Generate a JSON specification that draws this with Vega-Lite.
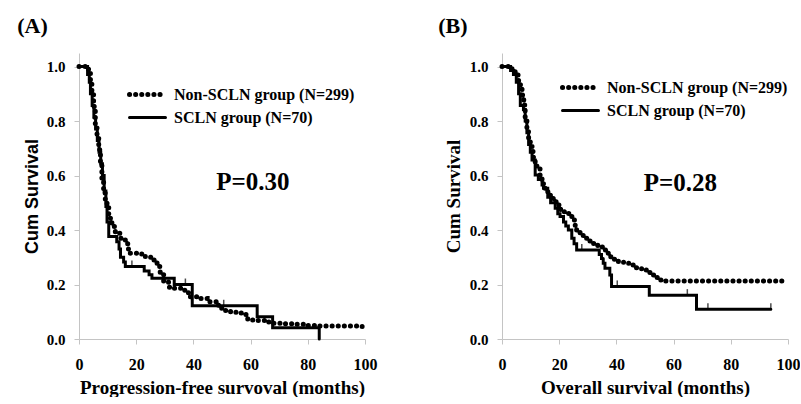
{
  "$schema": "https://vega.github.io/schema/vega-lite/v6.json",
  "background": "white",
  "padding": {"left": 17, "top": 15, "right": 0, "bottom": 0},
  "bounds": "flush",
  "spacing": 137,
  "config": {
    "view": {"stroke": null},
    "font": "Liberation Serif",
    "axis": {
      "grid": false,
      "domainColor": "#c4c4c4",
      "tickColor": "#c4c4c4",
      "tickSize": 5,
      "labelFont": "Liberation Serif",
      "labelFontWeight": "bold",
      "labelColor": "black",
      "labelFlush": false,
      "labelOverlap": false,
      "titleFont": "Liberation Serif",
      "titleFontWeight": "bold",
      "titleColor": "black"
    },
    "axisX": {"labelFontSize": 16, "labelPadding": 12, "titleFontSize": 19, "titlePadding": 6},
    "axisY": {"labelFontSize": 15, "labelPadding": 9, "titleFontSize": 19, "titlePadding": 6},
    "legend": {
      "orient": "none",
      "title": null,
      "symbolType": "M-2,0H2",
      "symbolSize": 324,
      "symbolStrokeColor": "black",
      "labelFont": "Liberation Serif",
      "labelFontWeight": "bold",
      "labelFontSize": 16,
      "labelColor": "black",
      "labelLimit": 400,
      "labelOffset": 15,
      "rowPadding": 2,
      "padding": 0
    }
  },
  "datasets": {
    "curves": [
      {"panel": "A", "group": "Non-SCLN group (N=299)", "t": 0, "s": 1},
      {"panel": "A", "group": "Non-SCLN group (N=299)", "t": 2.2, "s": 0.99},
      {"panel": "A", "group": "Non-SCLN group (N=299)", "t": 3.4, "s": 0.976},
      {"panel": "A", "group": "Non-SCLN group (N=299)", "t": 4, "s": 0.94},
      {"panel": "A", "group": "Non-SCLN group (N=299)", "t": 4.5, "s": 0.9},
      {"panel": "A", "group": "Non-SCLN group (N=299)", "t": 5.1, "s": 0.854},
      {"panel": "A", "group": "Non-SCLN group (N=299)", "t": 5.7, "s": 0.79},
      {"panel": "A", "group": "Non-SCLN group (N=299)", "t": 6.3, "s": 0.744},
      {"panel": "A", "group": "Non-SCLN group (N=299)", "t": 6.9, "s": 0.695},
      {"panel": "A", "group": "Non-SCLN group (N=299)", "t": 7.5, "s": 0.646},
      {"panel": "A", "group": "Non-SCLN group (N=299)", "t": 8, "s": 0.585},
      {"panel": "A", "group": "Non-SCLN group (N=299)", "t": 8.6, "s": 0.536},
      {"panel": "A", "group": "Non-SCLN group (N=299)", "t": 9.2, "s": 0.505},
      {"panel": "A", "group": "Non-SCLN group (N=299)", "t": 9.8, "s": 0.486},
      {"panel": "A", "group": "Non-SCLN group (N=299)", "t": 10.4, "s": 0.456},
      {"panel": "A", "group": "Non-SCLN group (N=299)", "t": 11, "s": 0.43},
      {"panel": "A", "group": "Non-SCLN group (N=299)", "t": 11.5, "s": 0.413},
      {"panel": "A", "group": "Non-SCLN group (N=299)", "t": 12.7, "s": 0.388},
      {"panel": "A", "group": "Non-SCLN group (N=299)", "t": 14.4, "s": 0.37},
      {"panel": "A", "group": "Non-SCLN group (N=299)", "t": 16.2, "s": 0.35},
      {"panel": "A", "group": "Non-SCLN group (N=299)", "t": 17.3, "s": 0.33},
      {"panel": "A", "group": "Non-SCLN group (N=299)", "t": 17.9, "s": 0.315},
      {"panel": "A", "group": "Non-SCLN group (N=299)", "t": 20.8, "s": 0.312},
      {"panel": "A", "group": "Non-SCLN group (N=299)", "t": 23.2, "s": 0.3},
      {"panel": "A", "group": "Non-SCLN group (N=299)", "t": 26, "s": 0.29},
      {"panel": "A", "group": "Non-SCLN group (N=299)", "t": 27.3, "s": 0.266},
      {"panel": "A", "group": "Non-SCLN group (N=299)", "t": 28.4, "s": 0.24},
      {"panel": "A", "group": "Non-SCLN group (N=299)", "t": 29.6, "s": 0.21},
      {"panel": "A", "group": "Non-SCLN group (N=299)", "t": 31.3, "s": 0.19},
      {"panel": "A", "group": "Non-SCLN group (N=299)", "t": 33.1, "s": 0.186},
      {"panel": "A", "group": "Non-SCLN group (N=299)", "t": 36, "s": 0.18},
      {"panel": "A", "group": "Non-SCLN group (N=299)", "t": 37, "s": 0.17},
      {"panel": "A", "group": "Non-SCLN group (N=299)", "t": 38.3, "s": 0.155},
      {"panel": "A", "group": "Non-SCLN group (N=299)", "t": 41.3, "s": 0.149},
      {"panel": "A", "group": "Non-SCLN group (N=299)", "t": 44.8, "s": 0.137},
      {"panel": "A", "group": "Non-SCLN group (N=299)", "t": 48.8, "s": 0.113},
      {"panel": "A", "group": "Non-SCLN group (N=299)", "t": 51, "s": 0.105},
      {"panel": "A", "group": "Non-SCLN group (N=299)", "t": 53, "s": 0.098},
      {"panel": "A", "group": "Non-SCLN group (N=299)", "t": 55, "s": 0.095},
      {"panel": "A", "group": "Non-SCLN group (N=299)", "t": 57, "s": 0.09},
      {"panel": "A", "group": "Non-SCLN group (N=299)", "t": 59, "s": 0.07},
      {"panel": "A", "group": "Non-SCLN group (N=299)", "t": 62, "s": 0.068},
      {"panel": "A", "group": "Non-SCLN group (N=299)", "t": 66, "s": 0.062},
      {"panel": "A", "group": "Non-SCLN group (N=299)", "t": 68, "s": 0.058},
      {"panel": "A", "group": "Non-SCLN group (N=299)", "t": 72, "s": 0.056},
      {"panel": "A", "group": "Non-SCLN group (N=299)", "t": 76, "s": 0.054},
      {"panel": "A", "group": "Non-SCLN group (N=299)", "t": 79, "s": 0.05},
      {"panel": "A", "group": "Non-SCLN group (N=299)", "t": 83, "s": 0.048},
      {"panel": "A", "group": "Non-SCLN group (N=299)", "t": 98.5, "s": 0.048},
      {"panel": "A", "group": "Non-SCLN group (N=299)", "t": 99, "s": 0.042},
      {"panel": "A", "group": "SCLN group (N=70)", "t": 0, "s": 1},
      {"panel": "A", "group": "SCLN group (N=70)", "t": 3, "s": 0.971},
      {"panel": "A", "group": "SCLN group (N=70)", "t": 3.6, "s": 0.943},
      {"panel": "A", "group": "SCLN group (N=70)", "t": 4, "s": 0.9},
      {"panel": "A", "group": "SCLN group (N=70)", "t": 4.6, "s": 0.857},
      {"panel": "A", "group": "SCLN group (N=70)", "t": 5.2, "s": 0.814},
      {"panel": "A", "group": "SCLN group (N=70)", "t": 5.8, "s": 0.771},
      {"panel": "A", "group": "SCLN group (N=70)", "t": 6.4, "s": 0.729},
      {"panel": "A", "group": "SCLN group (N=70)", "t": 7, "s": 0.686},
      {"panel": "A", "group": "SCLN group (N=70)", "t": 7.6, "s": 0.643},
      {"panel": "A", "group": "SCLN group (N=70)", "t": 8.2, "s": 0.6},
      {"panel": "A", "group": "SCLN group (N=70)", "t": 8.8, "s": 0.543},
      {"panel": "A", "group": "SCLN group (N=70)", "t": 9.4, "s": 0.486},
      {"panel": "A", "group": "SCLN group (N=70)", "t": 9.8, "s": 0.43},
      {"panel": "A", "group": "SCLN group (N=70)", "t": 10.4, "s": 0.376},
      {"panel": "A", "group": "SCLN group (N=70)", "t": 13.2, "s": 0.357},
      {"panel": "A", "group": "SCLN group (N=70)", "t": 14, "s": 0.33},
      {"panel": "A", "group": "SCLN group (N=70)", "t": 14.5, "s": 0.3},
      {"panel": "A", "group": "SCLN group (N=70)", "t": 15.6, "s": 0.283},
      {"panel": "A", "group": "SCLN group (N=70)", "t": 16.2, "s": 0.266},
      {"panel": "A", "group": "SCLN group (N=70)", "t": 22.8, "s": 0.25},
      {"panel": "A", "group": "SCLN group (N=70)", "t": 24.5, "s": 0.236},
      {"panel": "A", "group": "SCLN group (N=70)", "t": 25.5, "s": 0.223},
      {"panel": "A", "group": "SCLN group (N=70)", "t": 33.3, "s": 0.2},
      {"panel": "A", "group": "SCLN group (N=70)", "t": 39.6, "s": 0.122},
      {"panel": "A", "group": "SCLN group (N=70)", "t": 62.3, "s": 0.082},
      {"panel": "A", "group": "SCLN group (N=70)", "t": 67.7, "s": 0.041},
      {"panel": "A", "group": "SCLN group (N=70)", "t": 84, "s": 0},
      {"panel": "B", "group": "Non-SCLN group (N=299)", "t": 0, "s": 1},
      {"panel": "B", "group": "Non-SCLN group (N=299)", "t": 3.5, "s": 0.99},
      {"panel": "B", "group": "Non-SCLN group (N=299)", "t": 4.6, "s": 0.969},
      {"panel": "B", "group": "Non-SCLN group (N=299)", "t": 5.8, "s": 0.933},
      {"panel": "B", "group": "Non-SCLN group (N=299)", "t": 7, "s": 0.896},
      {"panel": "B", "group": "Non-SCLN group (N=299)", "t": 7.6, "s": 0.859},
      {"panel": "B", "group": "Non-SCLN group (N=299)", "t": 8.1, "s": 0.81},
      {"panel": "B", "group": "Non-SCLN group (N=299)", "t": 8.7, "s": 0.761},
      {"panel": "B", "group": "Non-SCLN group (N=299)", "t": 9.3, "s": 0.736},
      {"panel": "B", "group": "Non-SCLN group (N=299)", "t": 9.9, "s": 0.712},
      {"panel": "B", "group": "Non-SCLN group (N=299)", "t": 10.5, "s": 0.688},
      {"panel": "B", "group": "Non-SCLN group (N=299)", "t": 11, "s": 0.663},
      {"panel": "B", "group": "Non-SCLN group (N=299)", "t": 11.6, "s": 0.645},
      {"panel": "B", "group": "Non-SCLN group (N=299)", "t": 12.2, "s": 0.627},
      {"panel": "B", "group": "Non-SCLN group (N=299)", "t": 13.3, "s": 0.602},
      {"panel": "B", "group": "Non-SCLN group (N=299)", "t": 14, "s": 0.583},
      {"panel": "B", "group": "Non-SCLN group (N=299)", "t": 14.5, "s": 0.565},
      {"panel": "B", "group": "Non-SCLN group (N=299)", "t": 15.1, "s": 0.553},
      {"panel": "B", "group": "Non-SCLN group (N=299)", "t": 15.7, "s": 0.541},
      {"panel": "B", "group": "Non-SCLN group (N=299)", "t": 16.5, "s": 0.528},
      {"panel": "B", "group": "Non-SCLN group (N=299)", "t": 17.4, "s": 0.516},
      {"panel": "B", "group": "Non-SCLN group (N=299)", "t": 18.3, "s": 0.504},
      {"panel": "B", "group": "Non-SCLN group (N=299)", "t": 19.2, "s": 0.492},
      {"panel": "B", "group": "Non-SCLN group (N=299)", "t": 20.5, "s": 0.475},
      {"panel": "B", "group": "Non-SCLN group (N=299)", "t": 21.8, "s": 0.461},
      {"panel": "B", "group": "Non-SCLN group (N=299)", "t": 23.5, "s": 0.45},
      {"panel": "B", "group": "Non-SCLN group (N=299)", "t": 25, "s": 0.437},
      {"panel": "B", "group": "Non-SCLN group (N=299)", "t": 25.6, "s": 0.415},
      {"panel": "B", "group": "Non-SCLN group (N=299)", "t": 26.1, "s": 0.394},
      {"panel": "B", "group": "Non-SCLN group (N=299)", "t": 27.3, "s": 0.38},
      {"panel": "B", "group": "Non-SCLN group (N=299)", "t": 28.4, "s": 0.37},
      {"panel": "B", "group": "Non-SCLN group (N=299)", "t": 30, "s": 0.36},
      {"panel": "B", "group": "Non-SCLN group (N=299)", "t": 31.4, "s": 0.351},
      {"panel": "B", "group": "Non-SCLN group (N=299)", "t": 33.5, "s": 0.338},
      {"panel": "B", "group": "Non-SCLN group (N=299)", "t": 35.4, "s": 0.327},
      {"panel": "B", "group": "Non-SCLN group (N=299)", "t": 36.3, "s": 0.315},
      {"panel": "B", "group": "Non-SCLN group (N=299)", "t": 37.2, "s": 0.302},
      {"panel": "B", "group": "Non-SCLN group (N=299)", "t": 39, "s": 0.293},
      {"panel": "B", "group": "Non-SCLN group (N=299)", "t": 40.7, "s": 0.284},
      {"panel": "B", "group": "Non-SCLN group (N=299)", "t": 42.5, "s": 0.278},
      {"panel": "B", "group": "Non-SCLN group (N=299)", "t": 44.7, "s": 0.272},
      {"panel": "B", "group": "Non-SCLN group (N=299)", "t": 46.8, "s": 0.262},
      {"panel": "B", "group": "Non-SCLN group (N=299)", "t": 48.8, "s": 0.253},
      {"panel": "B", "group": "Non-SCLN group (N=299)", "t": 50.5, "s": 0.244},
      {"panel": "B", "group": "Non-SCLN group (N=299)", "t": 52.3, "s": 0.235},
      {"panel": "B", "group": "Non-SCLN group (N=299)", "t": 53.8, "s": 0.226},
      {"panel": "B", "group": "Non-SCLN group (N=299)", "t": 55.2, "s": 0.217},
      {"panel": "B", "group": "Non-SCLN group (N=299)", "t": 56, "s": 0.213},
      {"panel": "B", "group": "Non-SCLN group (N=299)", "t": 99, "s": 0.213},
      {"panel": "B", "group": "SCLN group (N=70)", "t": 0, "s": 1},
      {"panel": "B", "group": "SCLN group (N=70)", "t": 3, "s": 0.986},
      {"panel": "B", "group": "SCLN group (N=70)", "t": 4, "s": 0.971},
      {"panel": "B", "group": "SCLN group (N=70)", "t": 5, "s": 0.943},
      {"panel": "B", "group": "SCLN group (N=70)", "t": 5.8, "s": 0.9},
      {"panel": "B", "group": "SCLN group (N=70)", "t": 6.4, "s": 0.857},
      {"panel": "B", "group": "SCLN group (N=70)", "t": 7.5, "s": 0.843},
      {"panel": "B", "group": "SCLN group (N=70)", "t": 8.1, "s": 0.8},
      {"panel": "B", "group": "SCLN group (N=70)", "t": 8.7, "s": 0.757},
      {"panel": "B", "group": "SCLN group (N=70)", "t": 9.3, "s": 0.714},
      {"panel": "B", "group": "SCLN group (N=70)", "t": 9.9, "s": 0.686},
      {"panel": "B", "group": "SCLN group (N=70)", "t": 10.5, "s": 0.657},
      {"panel": "B", "group": "SCLN group (N=70)", "t": 11.6, "s": 0.602},
      {"panel": "B", "group": "SCLN group (N=70)", "t": 12.7, "s": 0.586},
      {"panel": "B", "group": "SCLN group (N=70)", "t": 14, "s": 0.565},
      {"panel": "B", "group": "SCLN group (N=70)", "t": 14.5, "s": 0.553},
      {"panel": "B", "group": "SCLN group (N=70)", "t": 16, "s": 0.52},
      {"panel": "B", "group": "SCLN group (N=70)", "t": 17, "s": 0.5},
      {"panel": "B", "group": "SCLN group (N=70)", "t": 18.6, "s": 0.48},
      {"panel": "B", "group": "SCLN group (N=70)", "t": 19.5, "s": 0.46},
      {"panel": "B", "group": "SCLN group (N=70)", "t": 20.3, "s": 0.45},
      {"panel": "B", "group": "SCLN group (N=70)", "t": 21.5, "s": 0.43},
      {"panel": "B", "group": "SCLN group (N=70)", "t": 22.3, "s": 0.415},
      {"panel": "B", "group": "SCLN group (N=70)", "t": 23.2, "s": 0.4},
      {"panel": "B", "group": "SCLN group (N=70)", "t": 24.4, "s": 0.37},
      {"panel": "B", "group": "SCLN group (N=70)", "t": 25.2, "s": 0.35},
      {"panel": "B", "group": "SCLN group (N=70)", "t": 26.1, "s": 0.327},
      {"panel": "B", "group": "SCLN group (N=70)", "t": 34, "s": 0.31},
      {"panel": "B", "group": "SCLN group (N=70)", "t": 34.8, "s": 0.296},
      {"panel": "B", "group": "SCLN group (N=70)", "t": 35.4, "s": 0.278},
      {"panel": "B", "group": "SCLN group (N=70)", "t": 36, "s": 0.26},
      {"panel": "B", "group": "SCLN group (N=70)", "t": 37.7, "s": 0.235},
      {"panel": "B", "group": "SCLN group (N=70)", "t": 38.3, "s": 0.193},
      {"panel": "B", "group": "SCLN group (N=70)", "t": 51.5, "s": 0.161},
      {"panel": "B", "group": "SCLN group (N=70)", "t": 68, "s": 0.109},
      {"panel": "B", "group": "SCLN group (N=70)", "t": 94, "s": 0.109}
    ],
    "censor": [
      {"panel": "A", "t": 18.5, "s": 0.266},
      {"panel": "A", "t": 37.2, "s": 0.2},
      {"panel": "A", "t": 50.6, "s": 0.122},
      {"panel": "B", "t": 27.9, "s": 0.327},
      {"panel": "B", "t": 40.3, "s": 0.193},
      {"panel": "B", "t": 64.8, "s": 0.161},
      {"panel": "B", "t": 72, "s": 0.109},
      {"panel": "B", "t": 94, "s": 0.109}
    ],
    "pvalues": [
      {"panel": "A", "label": "P=0.30"},
      {"panel": "B", "label": "P=0.28"}
    ]
  },
  "hconcat": [
    {
      "width": 286,
      "height": 286,
      "title": {"text": "(A)", "anchor": "start", "frame": "bounds", "font": "Liberation Serif", "fontSize": 22, "fontWeight": "bold", "color": "black", "offset": 15, "dx": -6},
      "layer": [
        {
          "data": {"name": "curves"},
          "transform": [{"filter": "datum.panel === 'A'"}],
          "mark": {"type": "line", "interpolate": "step-after", "strokeCap": "round", "color": "black"},
          "encoding": {
            "x": {"field": "t", "type": "quantitative", "scale": {"domain": [0, 100], "nice": false}, "axis": {"values": [0, 20, 40, 60, 80, 100], "title": "Progression-free survoval (months)"}},
            "y": {"field": "s", "type": "quantitative", "scale": {"domain": [0, 1.05], "nice": false}, "axis": {"values": [0, 0.2, 0.4, 0.6, 0.8, 1.0], "format": ".1f", "title": "Cum Survival", "titleFont": "Liberation Sans", "titleFontSize": 18, "titlePadding": 5}},
            "strokeDash": {"field": "group", "type": "nominal", "scale": {"domain": ["Non-SCLN group (N=299)", "SCLN group (N=70)"], "range": [[0.1, 6], [1, 0]]}, "legend": {"legendX": 57, "legendY": 30, "encode": {"symbols": {"update": {"strokeCap": {"value": "round"}}}}}},
            "strokeWidth": {"field": "group", "type": "nominal", "scale": {"domain": ["Non-SCLN group (N=299)", "SCLN group (N=70)"], "range": [5, 3]}, "legend": {"legendX": 57, "legendY": 30}}
          }
        },
        {
          "data": {"name": "censor"},
          "transform": [{"filter": "datum.panel === 'A'"}],
          "mark": {"type": "tick", "orient": "vertical", "size": 6, "thickness": 1.5, "color": "black", "yOffset": -3},
          "encoding": {
            "x": {"field": "t", "type": "quantitative"},
            "y": {"field": "s", "type": "quantitative"}
          }
        },
        {
          "data": {"name": "pvalues"},
          "transform": [{"filter": "datum.panel === 'A'"}],
          "mark": {"type": "text", "font": "Liberation Serif", "fontWeight": "bold", "fontSize": 25, "color": "black", "align": "center", "baseline": "middle"},
          "encoding": {
            "x": {"datum": 60.8},
            "y": {"datum": 0.577},
            "text": {"field": "label"}
          }
        }
      ]
    },
    {
      "width": 286,
      "height": 286,
      "title": {"text": "(B)", "anchor": "start", "frame": "bounds", "font": "Liberation Serif", "fontSize": 22, "fontWeight": "bold", "color": "black", "offset": 15, "dx": -6},
      "layer": [
        {
          "data": {"name": "curves"},
          "transform": [{"filter": "datum.panel === 'B'"}],
          "mark": {"type": "line", "interpolate": "step-after", "strokeCap": "round", "color": "black"},
          "encoding": {
            "x": {"field": "t", "type": "quantitative", "scale": {"domain": [0, 100], "nice": false}, "axis": {"values": [0, 20, 40, 60, 80, 100], "title": "Overall survival (months)"}},
            "y": {"field": "s", "type": "quantitative", "scale": {"domain": [0, 1.05], "nice": false}, "axis": {"values": [0, 0.2, 0.4, 0.6, 0.8, 1.0], "format": ".1f", "title": "Cum Survival"}},
            "strokeDash": {"field": "group", "type": "nominal", "scale": {"domain": ["Non-SCLN group (N=299)", "SCLN group (N=70)"], "range": [[0.1, 6], [1, 0]]}, "legend": {"legendX": 67, "legendY": 23, "encode": {"symbols": {"update": {"strokeCap": {"value": "round"}}}}}},
            "strokeWidth": {"field": "group", "type": "nominal", "scale": {"domain": ["Non-SCLN group (N=299)", "SCLN group (N=70)"], "range": [5, 3]}, "legend": {"legendX": 67, "legendY": 23}}
          }
        },
        {
          "data": {"name": "censor"},
          "transform": [{"filter": "datum.panel === 'B'"}],
          "mark": {"type": "tick", "orient": "vertical", "size": 6, "thickness": 1.5, "color": "black", "yOffset": -3},
          "encoding": {
            "x": {"field": "t", "type": "quantitative"},
            "y": {"field": "s", "type": "quantitative"}
          }
        },
        {
          "data": {"name": "pvalues"},
          "transform": [{"filter": "datum.panel === 'B'"}],
          "mark": {"type": "text", "font": "Liberation Serif", "fontWeight": "bold", "fontSize": 25, "color": "black", "align": "center", "baseline": "middle"},
          "encoding": {
            "x": {"datum": 62.4},
            "y": {"datum": 0.571},
            "text": {"field": "label"}
          }
        }
      ]
    }
  ],
  "resolve": {"scale": {"strokeDash": "independent", "strokeWidth": "independent"}, "legend": {"strokeDash": "independent", "strokeWidth": "independent"}}
}
